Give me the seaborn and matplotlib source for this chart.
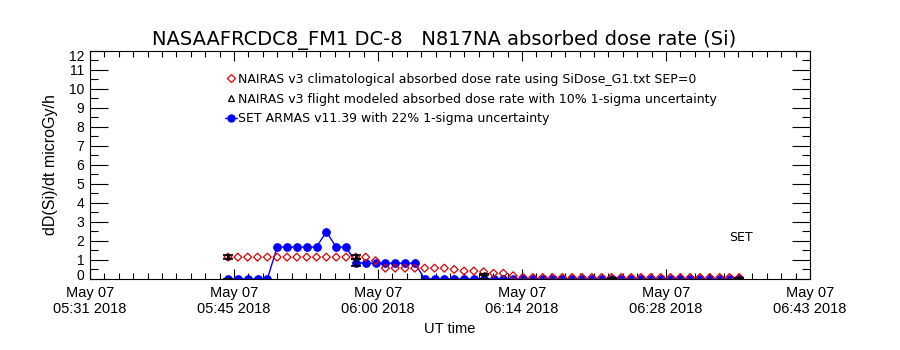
import numpy as np
import pandas as pd
import matplotlib
matplotlib.use("Agg")
import matplotlib.pyplot as plt
import matplotlib.dates as mdates
import matplotlib.transforms as mtransforms
from matplotlib.ticker import FixedLocator, FuncFormatter, MultipleLocator
from matplotlib.lines import Line2D
import seaborn as sns

# ---------------- data ----------------
times = pd.date_range("2018-05-07 05:45:00", periods=53, freq="59s")

nairas_clim = [1.15, 1.15, 1.15, 1.15, 1.15, 1.15, 1.15, 1.15, 1.15, 1.15,
               1.15, 1.15, 1.15, 1.15, 1.15, 0.96, 0.57, 0.57, 0.57, 0.57,
               0.57, 0.57, 0.57, 0.50, 0.42, 0.42, 0.38, 0.30, 0.30, 0.17,
               0.09, 0.08, 0.08, 0.08, 0.08, 0.08, 0.08, 0.08, 0.08, 0.08,
               0.08, 0.08, 0.08, 0.08, 0.08, 0.08, 0.08, 0.08, 0.08, 0.08,
               0.08, 0.08, 0.08]

set_armas = [0.0, 0.0, 0.0, 0.0, 0.0, 1.68, 1.68, 1.68, 1.68, 1.68,
             2.49, 1.68, 1.68, 0.86, 0.83, 0.83, 0.83, 0.83, 0.83, 0.83,
             0.0, 0.0, 0.0, 0.0, 0.0, 0.0, 0.0, 0.0, 0.0, 0.0,
             0.0, 0.0, 0.0, 0.0, 0.0, 0.0, 0.0, 0.0, 0.0, 0.0,
             0.0, 0.0, 0.0, 0.0, 0.0, 0.0, 0.0, 0.0, 0.0, 0.0,
             0.0, 0.0, 0.0]

flight_idx = [0, 13, 26, 39, 52]
flight_vals = [1.15, 1.15, 0.25, 0.05, 0.05]
flight_unc = 0.10
armas_unc = 0.22

title = "NASAAFRCDC8_FM1 DC-8   N817NA absorbed dose rate (Si)"
legend_labels = [
    "NAIRAS v3 climatological absorbed dose rate using SiDose_G1.txt SEP=0",
    "NAIRAS v3 flight modeled absorbed dose rate with 10% 1-sigma uncertainty",
    "SET ARMAS v11.39 with 22% 1-sigma uncertainty",
]
ylabel = "dD(Si)/dt microGy/h"
xlabel = "UT time"
t_start = pd.Timestamp("2018-05-07 05:31:12")
t_end = pd.Timestamp("2018-05-07 06:43:12")
yticks = list(range(0, 13))

# ---------------- plot ----------------
sns.set_theme(style="ticks")
plt.rcParams["font.family"] = ["DejaVu Sans"]
plt.rcParams["text.color"] = "black"
plt.rcParams["axes.labelcolor"] = "black"
narrow = ["Liberation Sans Narrow", "Liberation Sans", "DejaVu Sans"]

RED = "#e00000"
BLUE = "#0000ff"

df = pd.DataFrame({"time": times, "clim": nairas_clim, "armas": set_armas})
fl = pd.DataFrame({"time": times[flight_idx], "val": flight_vals})

fig = plt.figure(figsize=(9, 3.5), dpi=100)
ax = fig.add_axes([0.1, 0.2029, 0.8, 0.6514])

sns.scatterplot(data=df, x="time", y="clim", ax=ax, marker="D", s=16,
                facecolors="none", edgecolor=RED, linewidth=0.9,
                legend=False, zorder=3)
ax.errorbar(fl["time"], fl["val"], yerr=np.array(flight_vals) * flight_unc,
            fmt="^", ms=3, mfc="none", mec="black", ecolor="black",
            elinewidth=1.2, capsize=3.5, capthick=1.2, color="black",
            zorder=4)
sns.lineplot(data=df, x="time", y="armas", ax=ax, color=BLUE,
             marker="o", markersize=5.5, markeredgecolor=BLUE,
             linewidth=1, legend=False, zorder=2)
aerr = df.iloc[flight_idx]
ax.errorbar(aerr["time"], aerr["armas"], yerr=aerr["armas"] * armas_unc,
            fmt="none", ecolor="black", elinewidth=1.2, capsize=3.5,
            capthick=1.2, zorder=4)

ax.set_xlim(t_start, t_end)
ax.set_ylim(0, 12)

major = [mdates.date2num(t_start + pd.Timedelta(seconds=864 * k)) for k in range(6)]
minor = [mdates.date2num(t_start + pd.Timedelta(seconds=86.4 * k)) for k in range(51)]
ax.xaxis.set_major_locator(FixedLocator(major))
ax.xaxis.set_minor_locator(FixedLocator(minor))
ax.xaxis.set_major_formatter(FuncFormatter(
    lambda v, p: mdates.num2date(v).strftime("May %d\n%H:%M %Y")))
ax.set_yticks(yticks)
ax.yaxis.set_minor_locator(MultipleLocator(0.5))

ax.tick_params(axis="both", which="both", direction="in", top=True,
               right=True, colors="black", width=0.8)
ax.tick_params(axis="x", which="major", length=7, pad=5)
ax.tick_params(axis="x", which="minor", length=4)
ax.tick_params(axis="y", which="major", length=13, pad=4)
ax.tick_params(axis="y", which="minor", length=6)
for lab in ax.get_xticklabels():
    lab.set_fontfamily(narrow)
    lab.set_fontsize(10.5)
ylabs = ax.get_yticklabels()
for lab in ylabs:
    lab.set_fontfamily(narrow)
    lab.set_fontsize(10)
up = mtransforms.ScaledTranslation(0, 3 / 72, fig.dpi_scale_trans)
down = mtransforms.ScaledTranslation(0, -3 / 72, fig.dpi_scale_trans)
ylabs[0].set_transform(ylabs[0].get_transform() + up)
ylabs[-1].set_transform(ylabs[-1].get_transform() + down)
for s in ax.spines.values():
    s.set_color("black")
    s.set_linewidth(0.8)

ax.set_xlabel(xlabel, fontsize=10.5, family=narrow, labelpad=4)
ax.set_ylabel(ylabel, fontsize=11.5, family=narrow, labelpad=8)
fig.text(0.494, 0.885, title, ha="center", va="center", fontsize=14,
         color="black")
ax.text(0.904, 0.18, "SET", transform=ax.transAxes, ha="center",
        va="center", fontsize=9)

handles = [
    Line2D([], [], linestyle="none", marker="D", ms=4, mfc="none",
           mec=RED, mew=0.9),
    Line2D([], [], linestyle="none", marker="^", ms=4, mfc="none",
           mec="black", mew=0.9),
    Line2D([], [], color=BLUE, lw=1, marker="o", ms=5, mfc=BLUE, mec=BLUE),
]
ax.legend(handles, legend_labels, loc="upper left",
          bbox_to_anchor=(0.188, 0.905), frameon=False, fontsize=9,
          handlelength=0.9, handletextpad=0.1, labelspacing=0.55,
          borderpad=0, borderaxespad=0)

fig.savefig("out.png", dpi=100, facecolor="white")
